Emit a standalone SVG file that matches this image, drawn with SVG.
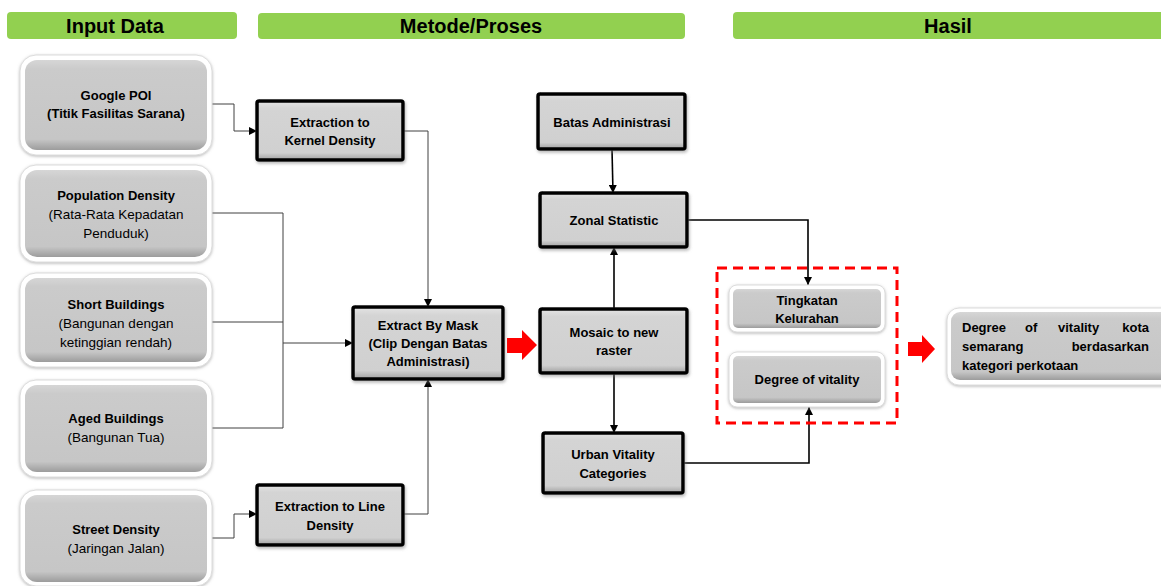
<svg xmlns="http://www.w3.org/2000/svg" width="1161" height="586" viewBox="0 0 1161 586">
<style>
.hdr{fill:#92D050}
.ht{font-family:"Liberation Sans",Arial,sans-serif;font-weight:bold;font-size:20px;fill:#000;text-anchor:middle}
.t{font-family:"Liberation Sans",Arial,sans-serif;font-size:13px;fill:#000;text-anchor:middle}
.b{font-weight:bold}
.r{font-size:13.5px}
.tl{font-family:"Liberation Sans",Arial,sans-serif;font-size:13px;font-weight:bold;fill:#000}
.out{fill:#fff;stroke:#dcdcdc;stroke-width:1;filter:url(#sh)}
.in{fill:url(#gin)}
.pn{fill:url(#gpn);stroke:#000;stroke-width:3.5;filter:url(#sh2)}
.bev{fill:none;stroke:#f2f2f2;stroke-width:1.5}
.bevd{fill:none;stroke:#8c8c8c;stroke-width:1.5}
.thin{fill:none;stroke:#404040;stroke-width:1}
.blk{fill:none;stroke:#000;stroke-width:1.6}
.red{fill:#ff0000}
</style>
<defs>
<linearGradient id="gin" x1="0" y1="0" x2="0" y2="1">
<stop offset="0" stop-color="#d6d6d6"/>
<stop offset="0.1" stop-color="#cbcbcb"/>
<stop offset="0.88" stop-color="#c6c6c6"/>
<stop offset="1" stop-color="#9c9c9c"/>
</linearGradient>
<linearGradient id="gpn" x1="0" y1="0" x2="0" y2="1">
<stop offset="0" stop-color="#e4e4e4"/>
<stop offset="0.12" stop-color="#d4d4d4"/>
<stop offset="0.88" stop-color="#d0d0d0"/>
<stop offset="1" stop-color="#a0a0a0"/>
</linearGradient>
<filter id="sh" x="-10%" y="-10%" width="120%" height="125%">
<feDropShadow dx="0" dy="1" stdDeviation="1.6" flood-color="#888" flood-opacity="0.6"/>
</filter>
<filter id="sh2" x="-10%" y="-10%" width="120%" height="130%">
<feDropShadow dx="1" dy="2" stdDeviation="1.5" flood-color="#777" flood-opacity="0.5"/>
</filter>
<marker id="ag" viewBox="0 0 10 10" refX="10" refY="5" markerWidth="8" markerHeight="8" markerUnits="userSpaceOnUse" orient="auto">
<path d="M0,0 L10,5 L0,10 z" fill="#000"/>
</marker>
</defs>

<g id="headers">
<rect class="hdr" x="7" y="12" width="230" height="27" rx="4"/>
<text class="ht" x="115" y="33">Input Data</text>
<rect class="hdr" x="258" y="13" width="427" height="26" rx="4"/>
<text class="ht" x="471" y="33">Metode/Proses</text>
<rect class="hdr" x="733" y="12" width="432" height="27" rx="4"/>
<text class="ht" x="948" y="33">Hasil</text>
</g>

<g id="connectors">
<path class="thin" d="M212,104 H234 V131 H257" marker-end="url(#ag)"/>
<path class="thin" d="M403,131 H428 V307" marker-end="url(#ag)"/>
<path class="thin" d="M212,213 H283 V428 H212"/>
<path class="thin" d="M212,322 H283"/>
<path class="thin" d="M283,343 H353" marker-end="url(#ag)"/>
<path class="thin" d="M212,538 H234 V514 H257" marker-end="url(#ag)"/>
<path class="thin" d="M403,514 H428 V379" marker-end="url(#ag)"/>
<path class="blk" d="M612,149 L613,193" marker-end="url(#ag)"/>
<path class="blk" d="M614,309 V247" marker-end="url(#ag)"/>
<path class="blk" d="M614,373 V433" marker-end="url(#ag)"/>
<path class="blk" d="M687,220 H808 V285" marker-end="url(#ag)"/>
<path class="blk" d="M683,463 H809 V407" marker-end="url(#ag)"/>
<path class="red" d="M507,338 H522 V330 L537,345 L522,360 V353 H507 z"/>
<path class="red" d="M908,342 H922 V335 L935,349 L922,363 V356 H908 z"/>
</g>

<g id="google-poi">
<rect class="out" x="20" y="55" width="192" height="100" rx="16"/>
<rect class="in" x="25" y="60" width="182" height="90" rx="12"/>
<text class="t b" x="116" y="100">Google POI</text>
<text class="t b" x="116" y="118">(Titik Fasilitas Sarana)</text>
</g>
<g id="population-density">
<rect class="out" x="20" y="165" width="192" height="97" rx="16"/>
<rect class="in" x="25" y="170" width="182" height="87" rx="12"/>
<text class="t b" x="116" y="200">Population Density</text>
<text class="t r" x="116" y="219">(Rata-Rata Kepadatan</text>
<text class="t r" x="116" y="238">Penduduk)</text>
</g>
<g id="short-buildings">
<rect class="out" x="20" y="273" width="192" height="94" rx="16"/>
<rect class="in" x="25" y="278" width="182" height="84" rx="12"/>
<text class="t b" x="116" y="309">Short Buildings</text>
<text class="t r" x="116" y="328">(Bangunan dengan</text>
<text class="t r" x="116" y="347">ketinggian rendah)</text>
</g>
<g id="aged-buildings">
<rect class="out" x="20" y="380" width="192" height="97" rx="16"/>
<rect class="in" x="25" y="385" width="182" height="87" rx="12"/>
<text class="t b" x="116" y="423">Aged Buildings</text>
<text class="t r" x="116" y="442">(Bangunan Tua)</text>
</g>
<g id="street-density">
<rect class="out" x="20" y="490" width="192" height="96" rx="16"/>
<rect class="in" x="25" y="495" width="182" height="87" rx="12"/>
<text class="t b" x="116" y="534">Street Density</text>
<text class="t r" x="116" y="553">(Jaringan Jalan)</text>
</g>

<g id="kernel-density">
<rect class="pn" x="257" y="101" width="146" height="59" rx="2"/>
<text class="t b" x="330" y="127">Extraction to</text>
<text class="t b" x="330" y="145">Kernel Density</text>
</g>
<g id="line-density">
<rect class="pn" x="257" y="485" width="146" height="60" rx="2"/>
<text class="t b" x="330" y="511">Extraction to Line</text>
<text class="t b" x="330" y="530">Density</text>
</g>
<g id="extract-by-mask">
<rect class="pn" x="353" y="307" width="150" height="72" rx="2"/>
<text class="t b" x="428" y="330">Extract By Mask</text>
<text class="t b" x="428" y="348">(Clip Dengan Batas</text>
<text class="t b" x="428" y="366">Administrasi)</text>
</g>
<g id="batas-administrasi">
<rect class="pn" x="538" y="94" width="147" height="55" rx="2"/>
<text class="t b" x="612" y="127">Batas Administrasi</text>
</g>
<g id="zonal-statistic">
<rect class="pn" x="540" y="193" width="147" height="54" rx="2"/>
<text class="t b" x="614" y="225">Zonal Statistic</text>
</g>
<g id="mosaic">
<rect class="pn" x="540" y="309" width="147" height="64" rx="2"/>
<text class="t b" x="614" y="337">Mosaic to new</text>
<text class="t b" x="614" y="355">raster</text>
</g>
<g id="urban-vitality">
<rect class="pn" x="543" y="433" width="140" height="60" rx="2"/>
<text class="t b" x="613" y="459">Urban Vitality</text>
<text class="t b" x="613" y="478">Categories</text>
</g>

<g id="hasil-group">
<rect x="717" y="268" width="180" height="155" fill="none" stroke="#ff0000" stroke-width="3" stroke-dasharray="10 6"/>
</g>
<g id="tingkatan-kelurahan">
<rect class="out" x="729" y="285" width="156" height="47" rx="8"/>
<rect class="in" x="733" y="289" width="148" height="39" rx="5"/>
<text class="t b" x="807" y="305">Tingkatan</text>
<text class="t b" x="807" y="323">Kelurahan</text>
</g>
<g id="degree-of-vitality">
<rect class="out" x="729" y="352" width="156" height="55" rx="8"/>
<rect class="in" x="733" y="356" width="148" height="47" rx="5"/>
<text class="t b" x="807" y="384">Degree of vitality</text>
</g>
<g id="final-result">
<rect class="out" x="947" y="308" width="230" height="77" rx="12"/>
<rect class="in" x="951" y="312" width="222" height="68" rx="9"/>
<text class="tl" x="962" y="332">Degree</text>
<text class="tl" x="1025" y="332">of</text>
<text class="tl" x="1058" y="332">vitality</text>
<text class="tl" x="1149" y="332" text-anchor="end">kota</text>
<text class="tl" x="962" y="351">semarang</text>
<text class="tl" x="1149" y="351" text-anchor="end">berdasarkan</text>
<text class="tl" x="962" y="370">kategori perkotaan</text>
</g>
</svg>
